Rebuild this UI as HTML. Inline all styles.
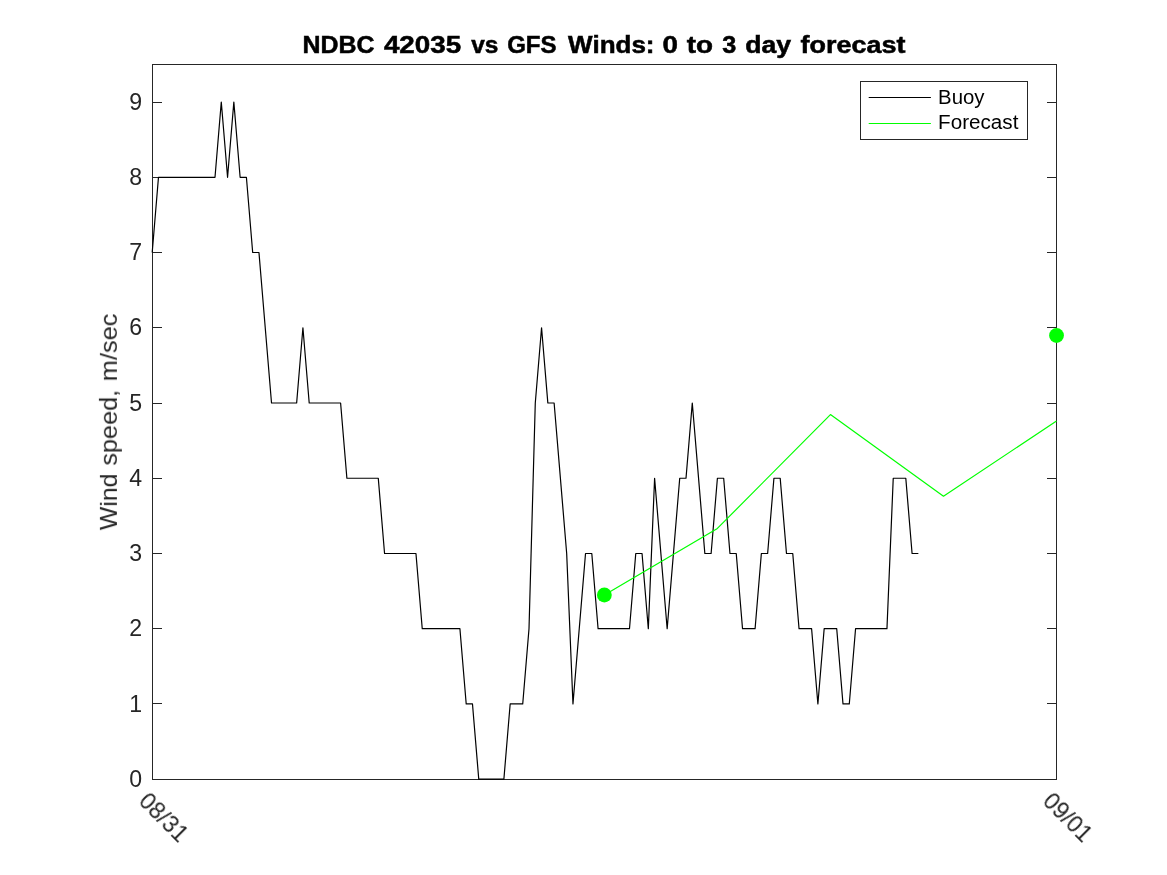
<!DOCTYPE html>
<html><head><meta charset="utf-8"><style>
html,body{margin:0;padding:0;background:#fff;width:1167px;height:875px;overflow:hidden;}
svg{display:block;}
text{will-change:transform;}
</style></head><body>
<svg width="1167" height="875" viewBox="0 0 1167 875">
<rect width="1167" height="875" fill="#fff"/>
<rect x="152.5" y="64.5" width="904" height="715" fill="none" stroke="#262626" stroke-width="1"/>
<path d="M152.5,779.50h9.5M1056.5,779.50h-9.5M152.5,703.50h9.5M1056.5,703.50h-9.5M152.5,628.50h9.5M1056.5,628.50h-9.5M152.5,553.50h9.5M1056.5,553.50h-9.5M152.5,478.50h9.5M1056.5,478.50h-9.5M152.5,403.50h9.5M1056.5,403.50h-9.5M152.5,327.50h9.5M1056.5,327.50h-9.5M152.5,252.50h9.5M1056.5,252.50h-9.5M152.5,177.50h9.5M1056.5,177.50h-9.5M152.5,102.50h9.5M1056.5,102.50h-9.5" stroke="#262626" stroke-width="1" fill="none"/>
<polyline points="152.20,252.52 158.48,177.28 215.00,177.28 221.28,102.04 227.56,177.28 233.84,102.04 240.12,177.28 246.40,177.28 252.68,252.52 258.96,252.52 271.52,403.00 296.64,403.00 302.92,327.76 309.20,403.00 340.60,403.00 346.88,478.24 378.28,478.24 384.56,553.48 415.96,553.48 422.24,628.72 459.92,628.72 466.20,703.96 472.48,703.96 478.76,779.20 503.88,779.20 510.16,703.96 522.72,703.96 529.00,628.72 535.28,403.00 541.56,327.76 547.84,403.00 554.12,403.00 566.68,553.48 572.96,703.96 585.52,553.48 591.80,553.48 598.08,628.72 629.48,628.72 635.76,553.48 642.04,553.48 648.32,628.72 654.60,478.24 667.16,628.72 679.72,478.24 686.00,478.24 692.28,403.00 704.84,553.48 711.12,553.48 717.40,478.24 723.68,478.24 729.96,553.48 736.24,553.48 742.52,628.72 755.08,628.72 761.36,553.48 767.64,553.48 773.92,478.24 780.20,478.24 786.48,553.48 792.76,553.48 799.04,628.72 811.60,628.72 817.88,703.96 824.16,628.72 836.72,628.72 843.00,703.96 849.28,703.96 855.56,628.72 886.96,628.72 893.24,478.24 905.80,478.24 912.08,553.48 918.36,553.48" fill="none" stroke="#000" stroke-width="1.2" stroke-linejoin="round"/>
<polyline points="604.36,595.01 717.40,528.43 830.44,414.59 943.48,496.22 1056.52,420.98" fill="none" stroke="#00ff00" stroke-width="1.2" stroke-linejoin="round"/>
<circle cx="604.36" cy="595.01" r="7.4" fill="#00ff00"/>
<circle cx="1056.52" cy="335.51" r="7.4" fill="#00ff00"/>
<rect x="860.5" y="81.5" width="167" height="58" fill="#fff" stroke="#262626" stroke-width="1"/>
<path d="M868.7,97.5H930.9" stroke="#000" stroke-width="1.1"/>
<path d="M868.7,123.5H930.9" stroke="#00ff00" stroke-width="1.1"/>
<text id="yt0" transform="translate(142.10,786.80)" font-family="Liberation Sans, sans-serif" font-size="23.1" text-anchor="end" fill="#262626">0</text>
<text id="yt1" transform="translate(142.10,711.56)" font-family="Liberation Sans, sans-serif" font-size="23.1" text-anchor="end" fill="#262626">1</text>
<text id="yt2" transform="translate(142.10,636.32)" font-family="Liberation Sans, sans-serif" font-size="23.1" text-anchor="end" fill="#262626">2</text>
<text id="yt3" transform="translate(142.10,561.08)" font-family="Liberation Sans, sans-serif" font-size="23.1" text-anchor="end" fill="#262626">3</text>
<text id="yt4" transform="translate(142.10,485.84)" font-family="Liberation Sans, sans-serif" font-size="23.1" text-anchor="end" fill="#262626">4</text>
<text id="yt5" transform="translate(142.10,410.60)" font-family="Liberation Sans, sans-serif" font-size="23.1" text-anchor="end" fill="#262626">5</text>
<text id="yt6" transform="translate(142.10,335.36)" font-family="Liberation Sans, sans-serif" font-size="23.1" text-anchor="end" fill="#262626">6</text>
<text id="yt7" transform="translate(142.10,260.12)" font-family="Liberation Sans, sans-serif" font-size="23.1" text-anchor="end" fill="#262626">7</text>
<text id="yt8" transform="translate(142.10,184.88)" font-family="Liberation Sans, sans-serif" font-size="23.1" text-anchor="end" fill="#262626">8</text>
<text id="yt9" transform="translate(142.10,109.64)" font-family="Liberation Sans, sans-serif" font-size="23.1" text-anchor="end" fill="#262626">9</text>
<text id="t1" transform="translate(302.46,52.8) scale(1.0692,1)" font-family="Liberation Sans, sans-serif" font-size="23.3" font-weight="bold" stroke="#000" stroke-width="0.5" fill="#000">NDBC</text>
<text id="t2" transform="translate(383.90,52.8) scale(1.1938,1)" font-family="Liberation Sans, sans-serif" font-size="23.3" font-weight="bold" stroke="#000" stroke-width="0.5" fill="#000">42035</text>
<text id="t3" transform="translate(471.16,52.8) scale(1.0471,1)" font-family="Liberation Sans, sans-serif" font-size="23.3" font-weight="bold" stroke="#000" stroke-width="0.5" fill="#000">vs</text>
<text id="t4" transform="translate(507.13,52.8) scale(1.0323,1)" font-family="Liberation Sans, sans-serif" font-size="23.3" font-weight="bold" stroke="#000" stroke-width="0.5" fill="#000">GFS</text>
<text id="t5" transform="translate(568.08,52.8) scale(1.1168,1)" font-family="Liberation Sans, sans-serif" font-size="23.3" font-weight="bold" stroke="#000" stroke-width="0.5" fill="#000">Winds:</text>
<text id="t6" transform="translate(662.51,52.8) scale(1.1913,1)" font-family="Liberation Sans, sans-serif" font-size="23.3" font-weight="bold" stroke="#000" stroke-width="0.5" fill="#000">0</text>
<text id="t7" transform="translate(686.70,52.8) scale(1.1953,1)" font-family="Liberation Sans, sans-serif" font-size="23.3" font-weight="bold" stroke="#000" stroke-width="0.5" fill="#000">to</text>
<text id="t8" transform="translate(722.13,52.8) scale(1.0833,1)" font-family="Liberation Sans, sans-serif" font-size="23.3" font-weight="bold" stroke="#000" stroke-width="0.5" fill="#000">3</text>
<text id="t9" transform="translate(745.24,52.8) scale(1.1443,1)" font-family="Liberation Sans, sans-serif" font-size="23.3" font-weight="bold" stroke="#000" stroke-width="0.5" fill="#000">day</text>
<text id="t10" transform="translate(800.61,52.8) scale(1.1568,1)" font-family="Liberation Sans, sans-serif" font-size="23.3" font-weight="bold" stroke="#000" stroke-width="0.5" fill="#000">forecast</text>
<text id="y1" transform="translate(116.9,530.16) rotate(-90) scale(1.0519,1)" font-family="Liberation Sans, sans-serif" font-size="23.6" fill="#262626">Wind</text>
<text id="y2" transform="translate(116.9,465.60) rotate(-90) scale(1.0691,1)" font-family="Liberation Sans, sans-serif" font-size="23.6" fill="#262626">speed,</text>
<text id="y3" transform="translate(116.9,381.31) rotate(-90) scale(1.0765,1)" font-family="Liberation Sans, sans-serif" font-size="23.6" fill="#262626">m/sec</text>
<text id="lb" transform="translate(938.12,104.0) scale(1.0556,1)" font-family="Liberation Sans, sans-serif" font-size="19.3" fill="#000">Buoy</text>
<text id="lf" transform="translate(938.09,128.8) scale(1.0703,1)" font-family="Liberation Sans, sans-serif" font-size="19.3" fill="#000">Forecast</text>
<text id="xt0" transform="translate(137.50,802.50) rotate(45)" font-family="Liberation Sans, sans-serif" font-size="23.2" fill="#262626">08/31</text>
<text id="xt1" transform="translate(1041.50,802.50) rotate(45)" font-family="Liberation Sans, sans-serif" font-size="23.2" fill="#262626">09/01</text>
</svg>
</body></html>
